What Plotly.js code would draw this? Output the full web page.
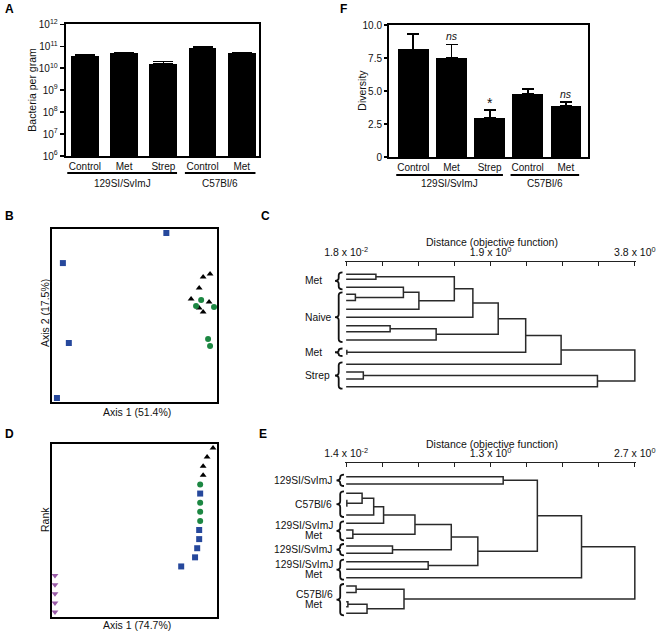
<!DOCTYPE html>
<html><head><meta charset="utf-8">
<script src="https://cdn.plot.ly/plotly-3.0.1.min.js"></script>
<style>html,body{margin:0;padding:0;background:#fff}#chart{width:661px;height:634px}</style>
</head><body><div id="chart"></div>
<script>
// ---------- Panel A: bacterial load ----------
const barCategories = ['Control', 'Met', 'Strep', 'Control', 'Met'];
const strainGroups = ['129SI/SvImJ', 'C57Bl/6'];
const strainGroupRanges = [[0, 2], [3, 4]];
const bacteriaPerGram = [3.7e10, 4.8e10, 1.55e10, 8.5e10, 4.8e10];
const bacteriaErrUp = [0.6e10, 0.4e10, 0.45e10, 1.0e10, 0.4e10];
const logTickVals = [1e6, 1e7, 1e8, 1e9, 1e10, 1e11, 1e12];
const logTickText = ['10<sup>6</sup>', '10<sup>7</sup>', '10<sup>8</sup>', '10<sup>9</sup>', '10<sup>10</sup>', '10<sup>11</sup>', '10<sup>12</sup>'];

// ---------- Panel F: diversity ----------
const diversity = [8.15, 7.52, 2.99, 4.78, 3.85];
const diversityErrUp = [1.14, 1.01, 0.55, 0.38, 0.33];
const diversitySig = ['', 'ns', '*', '', 'ns'];
const diversityTickVals = [0, 2.5, 5, 7.5, 10];
const diversityTickText = ['0', '2.5', '5.0', '7.5', '10.0'];

// ---------- Panel B: ordination (Axis 1 51.4%, Axis 2 17.5%) ----------
const bSquaresX = [0.693, 0.066, 0.102, 0.030];
const bSquaresY = [0.977, 0.803, 0.341, 0.023];
const bTrianglesX = [0.958, 0.916, 0.892, 0.843, 0.952, 0.892, 0.916];
const bTrianglesY = [0.740, 0.723, 0.659, 0.595, 0.578, 0.543, 0.520];
const bCirclesX = [0.904, 0.873, 0.982, 0.946, 0.958];
const bCirclesY = [0.590, 0.555, 0.549, 0.364, 0.324];

// ---------- Panel D: rank plot (Axis 1 74.7%) ----------
const dTrianglesX = [0.976, 0.940, 0.916, 0.916];
const dTrianglesRank = [19, 18, 17, 16];
const dCirclesX = [0.898, 0.898, 0.898, 0.898];
const dCirclesRank = [15, 13, 12, 11];
const dSquaresX = [0.898, 0.892, 0.892, 0.880, 0.867, 0.783];
const dSquaresRank = [14, 10, 9, 8, 7, 6];
const dInvTrianglesX = [0.018, 0.018, 0.018, 0.018, 0.018];
const dInvTrianglesRank = [5, 4, 3, 2, 1];

// ---------- Panel C: dendrogram ----------
const cAxisMin = 0.018, cAxisMax = 3.8;
const cTickText = ['1.8 x 10<sup>-2</sup>', '1.9 x 10<sup>0</sup>', '3.8 x 10<sup>0</sup>'];
const cLeafY = [12.3, 17.3, 25.3, 32.3, 38.5, 47.3, 55.3, 63.7, 69.7, 78, 88.5, 92, 102.3, 110, 117, 124.7];
// [childA, childB, merge distance]; children >= leaf count are earlier merges
const cMerges = [
  [0, 1, 0.408], [3, 4, 0.139], [2, 17, 0.768], [18, 5, 0.971], [16, 19, 1.435],
  [20, 6, 1.678], [7, 8, 0.594], [22, 9, 1.197], [21, 23, 2.010], [10, 11, 0.027],
  [24, 25, 2.370], [26, 12, 2.834], [13, 14, 0.243], [28, 15, 3.310], [27, 29, 3.8]
];
const cGroupLabels = [['Met'], ['Naive'], ['Met'], ['Strep']];
const cGroupLeaves = [[0, 2], [3, 9], [10, 11], [12, 15]];

// ---------- Panel E: dendrogram ----------
const eAxisMin = 0.014, eAxisMax = 2.7;
const eTickText = ['1.4 x 10<sup>-2</sup>', '1.3 x 10<sup>0</sup>', '2.7 x 10<sup>0</sup>'];
const eLeafY = [13.7, 21, 30.3, 37.5, 43, 52, 60.3, 67, 75.3, 83, 90.3, 98.7, 106.3, 114.7, 123, 129.5, 138.7, 143.7, 150.3];
const eMerges = [
  [0, 1, 1.475], [3, 4, 0.020], [2, 20, 0.162], [21, 5, 0.270], [22, 6, 0.362],
  [7, 8, 0.076], [23, 24, 0.654], [9, 10, 0.445], [25, 26, 0.992], [11, 12, 0.777],
  [27, 28, 1.239], [19, 29, 1.793], [30, 13, 2.204], [14, 15, 0.106], [16, 17, 0.030],
  [33, 18, 0.208], [32, 34, 0.552], [31, 35, 2.7]
];
const eGroupLabels = [['129SI/SvImJ'], ['C57Bl/6'], ['129SI/SvImJ', 'Met'], ['129SI/SvImJ'], ['129SI/SvImJ', 'Met'], ['C57Bl/6', 'Met']];
const eGroupLeaves = [[0, 1], [2, 5], [6, 8], [9, 10], [11, 13], [14, 18]];

// ---------- helpers ----------
const W = 661, H = 634;
const px = v => v / W, py = v => 1 - v / H;
const dom = (a, b) => [px(a), px(b)];
const domY = (top, bottom) => [py(bottom), py(top)];
const FONT = 'Arial, "Liberation Sans", Helvetica, sans-serif';
const TXT = '#111';

function dendro(leafY, merges, baseX) {
  const nodeY = leafY.slice(), nodeX = leafY.map(() => baseX);
  const xs = [], ys = [];
  merges.forEach(([a, b, h]) => {
    const ya = nodeY[a], yb = nodeY[b];
    xs.push(nodeX[a], h, h, nodeX[b], null);
    ys.push(ya, ya, yb, yb, null);
    nodeY.push((ya + yb) / 2); nodeX.push(h);
  });
  return {xs, ys};
}
function bracePath(xTip, xSpine, xEnd, y0, y1) {
  const r = Math.min(3, (y1 - y0) / 4), ym = (y0 + y1) / 2;
  return `M${xEnd},${y0} Q${xSpine},${y0} ${xSpine},${y0 + r} L${xSpine},${ym - r} Q${xSpine},${ym} ${xTip},${ym} ` +
         `Q${xSpine},${ym} ${xSpine},${ym + r} L${xSpine},${y1 - r} Q${xSpine},${y1} ${xEnd},${y1}`;
}

const frame = {showline: true, mirror: true, linewidth: 2, linecolor: '#000', showgrid: false, zeroline: false};
const idx = barCategories.map((_, i) => i);

const traces = [];
traces.push({type: 'bar', x: idx, y: bacteriaPerGram, xaxis: 'x', yaxis: 'y', width: 0.71,
  marker: {color: '#000'},
  error_y: {type: 'data', symmetric: false, array: bacteriaErrUp, arrayminus: [0, 0, 0, 0, 0], color: '#000', thickness: 1.5, width: 10}});
traces.push({type: 'bar', x: idx, y: diversity, xaxis: 'x2', yaxis: 'y2', width: 0.8,
  marker: {color: '#000'},
  error_y: {type: 'data', symmetric: false, array: diversityErrUp, arrayminus: [0, 0, 0, 0, 0], color: '#000', thickness: 1.8, width: 6}});

const BLUE = '#26489c', GREEN = '#1c8742', PURPLE = '#9a5ca8';
function pts(x, y, ax, symbol, color, size) {
  return {type: 'scatter', mode: 'markers', x, y, xaxis: 'x' + ax, yaxis: 'y' + ax, cliponaxis: false,
    marker: {symbol, color, size, line: {width: 0}}};
}
traces.push(pts(bSquaresX, bSquaresY, 3, 'square', BLUE, 6));
traces.push(pts(bTrianglesX, bTrianglesY, 3, 'triangle-up', '#000', 6));
traces.push(pts(bCirclesX, bCirclesY, 3, 'circle', GREEN, 6));
traces.push(pts(dTrianglesX, dTrianglesRank, 4, 'triangle-up', '#000', 6));
traces.push(pts(dCirclesX, dCirclesRank, 4, 'circle', GREEN, 6));
traces.push(pts(dSquaresX, dSquaresRank, 4, 'square', BLUE, 6));
traces.push(pts(dInvTrianglesX, dInvTrianglesRank, 4, 'triangle-down', PURPLE, 6));

const cSeg = dendro(cLeafY, cMerges, cAxisMin);
traces.push({type: 'scatter', mode: 'lines', x: cSeg.xs, y: cSeg.ys, xaxis: 'x5', yaxis: 'y5',
  line: {color: '#2a2a2a', width: 1.5}, connectgaps: false});
const eSeg = dendro(eLeafY, eMerges, eAxisMin);
traces.push({type: 'scatter', mode: 'lines', x: eSeg.xs, y: eSeg.ys, xaxis: 'x6', yaxis: 'y6',
  line: {color: '#2a2a2a', width: 1.5}, connectgaps: false});

const shapes = [], annotations = [];
function ann(o) { annotations.push(Object.assign({showarrow: false, xanchor: 'center', yanchor: 'middle', font: {family: FONT, size: 10, color: TXT}}, o)); }

// group lines + labels for A and F
[['x', 173, 184], ['x2', 175, 183]].forEach(([xr, lineY, labY]) => {
  strainGroupRanges.forEach(([a, b], g) => {
    const x0 = a - 0.45, x1 = b + 0.35;
    shapes.push({type: 'line', xref: xr, yref: 'paper', x0, x1, y0: py(lineY), y1: py(lineY), line: {color: '#000', width: 1.8}});
    ann({xref: xr, yref: 'paper', x: (x0 + x1) / 2, y: py(labY), text: strainGroups[g]});
  });
});
// significance marks F
diversitySig.forEach((s, i) => {
  if (!s) return;
  const star = s === '*';
  ann({xref: 'x2', yref: 'y2', x: i, y: diversity[i] + diversityErrUp[i], yanchor: 'bottom', yshift: star ? -3 : 0,
       text: star ? '*' : '<i>' + s + '</i>', font: {family: FONT, size: star ? 14 : 10.5, color: TXT}});
});

// braces and labels for dendrograms
const LF = {family: FONT, size: 10.3, color: TXT};
function braces(leafY, groupLeaves, labels, yref, shift, labelMode) {
  groupLeaves.forEach(([a, b], g) => {
    const y0 = leafY[a] - 2, y1 = leafY[b] + 2;
    shapes.push({type: 'path', xref: 'paper', yref, path: bracePath(px(335 + shift), px(338.7 + shift), px(342.5 + shift), y0, y1),
      line: {color: '#111', width: 1.8}});
    const yc = (leafY[a] + leafY[b]) / 2;
    const lab = labels[g];
    if (labelMode === 'left') {
      ann({xref: 'paper', yref, x: px(303), y: yc, text: lab[0], xanchor: 'left', font: LF});
    } else if (lab.length === 1) {
      ann({xref: 'paper', yref, x: px(334), y: yc, text: lab[0], xanchor: 'right', font: LF});
    } else {
      ann({xref: 'paper', yref, x: px(334), y: yc, yshift: 5, text: lab[0], xanchor: 'right', font: LF, borderpad: 0});
      ann({xref: 'paper', yref, x: px(313), y: yc, yshift: -5, text: lab[1], font: LF, borderpad: 0});
    }
  });
}
braces(cLeafY, cGroupLeaves, cGroupLabels, 'y5', 0, 'left');
braces(eLeafY, eGroupLeaves, eGroupLabels, 'y6', 1.5, 'right');

// axis titles
const TF = {family: FONT, size: 10.5, color: TXT};
ann({xref: 'paper', yref: 'paper', x: px(31.7), y: py(90), text: 'Bacteria per gram', textangle: -90, font: TF});
ann({xref: 'paper', yref: 'paper', x: px(361.7), y: py(90), text: 'Diversity', textangle: -90, font: TF});
ann({xref: 'paper', yref: 'paper', x: px(45), y: py(313), text: 'Axis 2 (17.5%)', textangle: -90, font: TF});
ann({xref: 'paper', yref: 'paper', x: px(136.7), y: py(411.7), text: 'Axis 1 (51.4%)', font: TF});
ann({xref: 'paper', yref: 'paper', x: px(45), y: py(520), text: 'Rank', textangle: -90, font: TF});
ann({xref: 'paper', yref: 'paper', x: px(137), y: py(625), text: 'Axis 1 (74.7%)', font: TF});
ann({xref: 'paper', yref: 'paper', x: px(492.5), y: py(241.5), text: 'Distance (objective function)', font: TF, borderpad: 0});
ann({xref: 'paper', yref: 'paper', x: px(492.5), y: py(443.5), text: 'Distance (objective function)', font: TF, borderpad: 0});

// panel letters
[['A', 2.5, 9.2], ['F', 338, 9.2], ['B', 3, 216], ['C', 259, 215.5], ['D', 2.5, 434], ['E', 257, 434]].forEach(([t, x, y]) => {
  ann({xref: 'paper', yref: 'paper', x: px(x), y: py(y), text: '<b>' + t + '</b>', xanchor: 'left', font: {family: FONT, size: 12, color: '#000'}});
});

const tickFont = {family: FONT, size: 10, color: TXT};
function dendroAxis(dmn, anchor, mn, mx, ticktext, pad) {
  const step = (mx - mn) / 8;
  return {domain: dmn, anchor, side: 'top', range: [mn - pad, mx + pad],
    tickvals: [mn, mn + 4 * step, mx], ticktext,
    ticks: 'inside', ticklen: 4, tickwidth: 1.2, tickcolor: '#222',
    minor: {tick0: mn, dtick: step, ticks: 'inside', ticklen: 4, tickwidth: 1.2, tickcolor: '#222', showgrid: false},
    showline: true, linewidth: 1.5, linecolor: '#222', showgrid: false, zeroline: false,
    tickfont: {family: FONT, size: 10.5, color: TXT}};
}
const layout = {
  width: W, height: H, margin: {l: 0, r: 0, t: 0, b: 0}, paper_bgcolor: '#fff', plot_bgcolor: 'rgba(0,0,0,0)',
  showlegend: false, font: {family: FONT, size: 10, color: TXT}, bargap: 0,
  xaxis: Object.assign({}, frame, {domain: dom(65.7, 259), anchor: 'y', range: [-0.49, 4.44], tickvals: idx, ticktext: barCategories, ticks: '', tickfont: tickFont}),
  yaxis: Object.assign({}, frame, {domain: domY(24.3, 156), anchor: 'x', type: 'log', range: [6, 12], tickvals: logTickVals, ticktext: logTickText, ticks: 'outside', ticklen: 4, tickwidth: 1.5, tickcolor: '#000', tickfont: tickFont}),
  xaxis2: Object.assign({}, frame, {domain: dom(389, 588.3), anchor: 'y2', range: [-0.64, 4.59], tickvals: idx, ticktext: barCategories, ticks: '', tickfont: tickFont}),
  yaxis2: Object.assign({}, frame, {domain: domY(25, 157), anchor: 'x2', range: [0, 10], tickvals: diversityTickVals, ticktext: diversityTickText, ticks: 'outside', ticklen: 3, tickwidth: 1.5, tickcolor: '#000', tickfont: tickFont}),
  xaxis3: Object.assign({}, frame, {domain: dom(52, 217), anchor: 'y3', range: [0, 1], showticklabels: false, ticks: ''}),
  yaxis3: Object.assign({}, frame, {domain: domY(229, 402), anchor: 'x3', range: [0, 1], showticklabels: false, ticks: ''}),
  xaxis4: Object.assign({}, frame, {domain: dom(52, 217), anchor: 'y4', range: [0, 1], showticklabels: false, ticks: ''}),
  yaxis4: Object.assign({}, frame, {domain: domY(444, 617), anchor: 'x4', range: [0.45, 19.44], showticklabels: false, ticks: ''}),
  xaxis5: dendroAxis(dom(345, 636), 'y5', cAxisMin, cAxisMax, cTickText, 0.015),
  yaxis5: {domain: domY(262, 392), anchor: 'x5', range: [130, 0], visible: false},
  xaxis6: dendroAxis(dom(345, 636), 'y6', eAxisMin, eAxisMax, eTickText, 0.011),
  yaxis6: {domain: domY(463, 620), anchor: 'x6', range: [157, 0], visible: false},
  shapes, annotations
};
Plotly.newPlot('chart', traces, layout, {staticPlot: true, displayModeBar: false});
</script></body></html>
